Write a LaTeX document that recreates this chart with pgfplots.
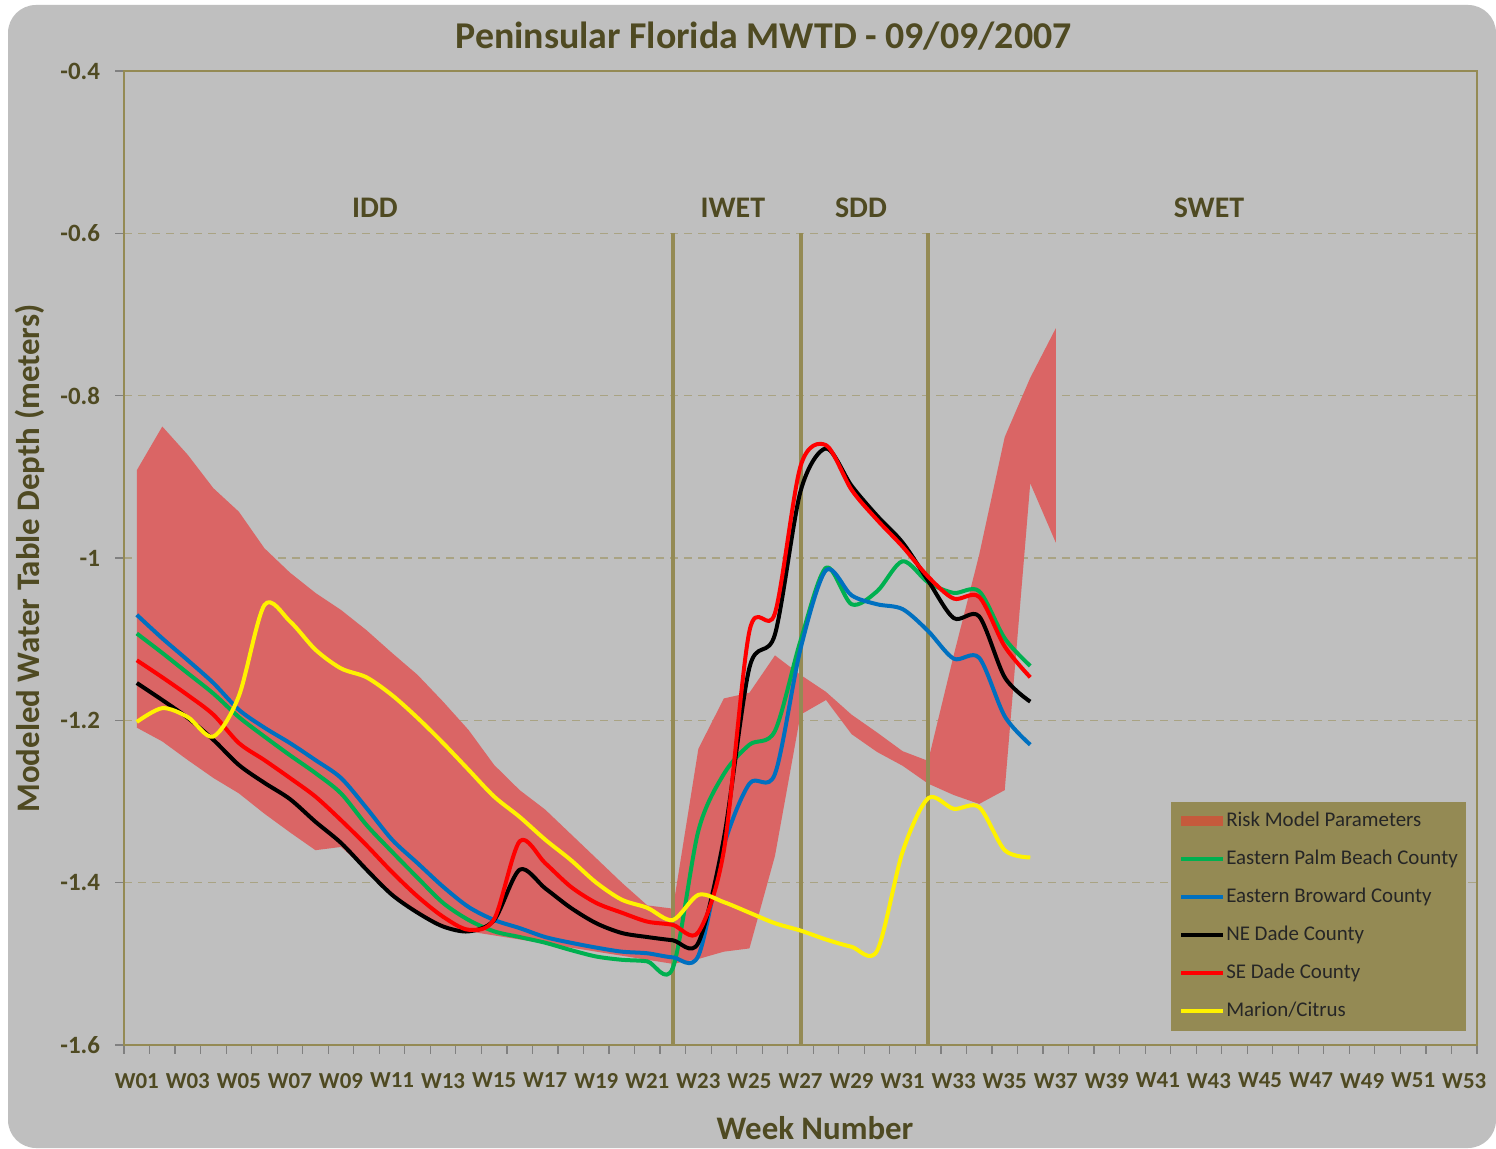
\documentclass[border=0pt]{standalone}
\usepackage{fontspec}
\setmainfont{Carlito}
\usepackage{pgfplots}
\pgfplotsset{compat=1.18}
\definecolor{chartbg}{HTML}{BFBFBF}
\definecolor{olivec}{HTML}{948A54}
\definecolor{gridc}{HTML}{A9A383}
\definecolor{textc}{HTML}{4F4A22}
\definecolor{bandred}{HTML}{DA6565}
\definecolor{legpatch}{HTML}{C55A3C}
\definecolor{xlgreen}{HTML}{00B050}
\definecolor{xlblue}{HTML}{0070C0}
\begin{document}
\begin{tikzpicture}
\path[use as bounding box] (0,0) rectangle (748bp,574.5bp);
\fill[white] (0,0) rectangle (748bp,574.5bp);
\fill[chartbg, rounded corners=14bp] (4bp,0.5bp) rectangle (748bp,572bp);
\begin{axis}[
  at={(62bp,52bp)}, anchor=south west,
  scale only axis, width=676.5bp, height=487bp,
  xmin=0.5, xmax=53.5, ymin=-1.6, ymax=-0.4,
  axis line style={draw=olivec, line width=1.2bp},
  tick pos=left, tick align=outside,
  major tick length=4.5bp, minor tick length=4.5bp,
  xtick={1,3,...,53},
  xticklabels={W01,W03,W05,W07,W09,W11,W13,W15,W17,W19,W21,W23,W25,W27,W29,W31,W33,W35,W37,W39,W41,W43,W45,W47,W49,W51,W53},
  minor xtick={0.5,1.5,...,53.5},
  every major x tick/.append style={draw=none},
  every minor x tick/.append style={draw=gray, line width=0.6bp},
  every major y tick/.append style={draw=gray, line width=0.6bp},
  ytick={-1.6,-1.4,-1.2,-1,-0.8,-0.6,-0.4},
  ymajorgrids,
  y grid style={draw=gridc, line width=0.7bp, dash pattern=on 4bp off 3bp},
  /pgf/number format/assume math mode=true,
  xticklabel style={font=\bfseries\fontsize{11.5}{13}\selectfont, text=textc, yshift=-6bp},
  yticklabel style={font=\bfseries\fontsize{12.5}{14}\selectfont, text=textc, xshift=-4bp, /pgf/number format/fixed, /pgf/number format/precision=1},
  legend style={at={(0.992,0.0144)}, anchor=south east, fill=olivec, draw=none,
    font=\fontsize{10.5}{12}\selectfont, text=black!85,
    row sep=9bp, column sep=0.5bp, inner xsep=4bp, inner ysep=4.75bp,
    nodes={inner sep=0pt, text height=7.5bp, text depth=2.5bp}},
  legend cell align=left,
  legend image code/.code={\draw[#1, line width=2bp] (0bp,0bp) -- (21bp,0bp);},
]
% risk band
\addplot[fill=bandred, draw=none,
  legend image code/.code={\fill[legpatch] (0bp,-2.7bp) rectangle (21bp,2.7bp);}]
coordinates {
(1,-0.892) (2,-0.838) (3,-0.873) (4,-0.914) (5,-0.943) (6,-0.988) (7,-1.018) (8,-1.043)
(9,-1.064) (10,-1.089) (11,-1.117) (12,-1.144) (13,-1.177) (14,-1.212) (15,-1.255) (16,-1.286)
(17,-1.310) (18,-1.340) (19,-1.370) (20,-1.400) (21,-1.428) (22,-1.432) (23,-1.235) (24,-1.173)
(25,-1.166) (26,-1.120) (27,-1.144) (28,-1.165) (29,-1.193) (30,-1.215) (31,-1.238) (32,-1.250)
(33,-1.120) (34,-0.996) (35,-0.851) (36,-0.778) (37,-0.717)
(37,-0.981) (36,-0.908) (35,-1.286) (34,-1.303) (33,-1.292) (32,-1.278) (31,-1.256) (30,-1.239)
(29,-1.217) (28,-1.175) (27,-1.193) (26,-1.367) (25,-1.481) (24,-1.485) (23,-1.494) (22,-1.500)
(21,-1.495) (20,-1.490) (19,-1.485) (18,-1.480) (17,-1.475) (16,-1.470) (15,-1.465) (14,-1.460)
(13,-1.454) (12,-1.437) (11,-1.415) (10,-1.384) (9,-1.356) (8,-1.360) (7,-1.338) (6,-1.315)
(5,-1.290) (4,-1.271) (3,-1.249) (2,-1.226) (1,-1.209)
} -- cycle;
\addlegendentry{Risk Model Parameters}
\draw[olivec, line width=2bp] (axis cs:22,-0.6) -- (axis cs:22,-1.6);
\draw[olivec, line width=2bp] (axis cs:27,-0.6) -- (axis cs:27,-1.6);
\draw[olivec, line width=2bp] (axis cs:32,-0.6) -- (axis cs:32,-1.6);
% Eastern Palm Beach
\addplot[xlgreen, line width=2bp, smooth, line join=round] coordinates {
(1,-1.093) (2,-1.117) (3,-1.142) (4,-1.167) (5,-1.196) (6,-1.220) (7,-1.243) (8,-1.265)
(9,-1.290) (10,-1.329) (11,-1.362) (12,-1.394) (13,-1.425) (14,-1.446) (15,-1.460) (16,-1.467)
(17,-1.474) (18,-1.483) (19,-1.491) (20,-1.495) (21,-1.497) (22,-1.505) (23,-1.336) (24,-1.266)
(25,-1.230) (26,-1.213) (27,-1.102) (28,-1.012) (29,-1.057) (30,-1.041) (31,-1.004) (32,-1.030)
(33,-1.043) (34,-1.041) (35,-1.099) (36,-1.133)};
\addlegendentry{Eastern Palm Beach County}
% Eastern Broward
\addplot[xlblue, line width=2bp, smooth, line join=round] coordinates {
(1,-1.070) (2,-1.099) (3,-1.126) (4,-1.154) (5,-1.187) (6,-1.209) (7,-1.228) (8,-1.249)
(9,-1.271) (10,-1.308) (11,-1.347) (12,-1.376) (13,-1.405) (14,-1.430) (15,-1.446) (16,-1.456)
(17,-1.467) (18,-1.474) (19,-1.480) (20,-1.485) (21,-1.487) (22,-1.492) (23,-1.490) (24,-1.354)
(25,-1.278) (26,-1.266) (27,-1.112) (28,-1.015) (29,-1.046) (30,-1.057) (31,-1.063) (32,-1.090)
(33,-1.124) (34,-1.123) (35,-1.195) (36,-1.230)};
\addlegendentry{Eastern Broward County}
% NE Dade
\addplot[black, line width=2bp, smooth, line join=round] coordinates {
(1,-1.154) (2,-1.175) (3,-1.197) (4,-1.224) (5,-1.255) (6,-1.277) (7,-1.297) (8,-1.325)
(9,-1.351) (10,-1.384) (11,-1.415) (12,-1.437) (13,-1.454) (14,-1.460) (15,-1.446) (16,-1.384)
(17,-1.407) (18,-1.431) (19,-1.450) (20,-1.462) (21,-1.467) (22,-1.471) (23,-1.474) (24,-1.345)
(25,-1.135) (26,-1.094) (27,-0.918) (28,-0.865) (29,-0.911) (30,-0.948) (31,-0.981) (32,-1.028)
(33,-1.074) (34,-1.072) (35,-1.147) (36,-1.177)};
\addlegendentry{NE Dade County}
% SE Dade
\addplot[red, line width=2bp, smooth, line join=round] coordinates {
(1,-1.126) (2,-1.147) (3,-1.169) (4,-1.193) (5,-1.228) (6,-1.249) (7,-1.271) (8,-1.294)
(9,-1.323) (10,-1.354) (11,-1.387) (12,-1.417) (13,-1.442) (14,-1.458) (15,-1.445) (16,-1.349)
(17,-1.376) (18,-1.405) (19,-1.425) (20,-1.437) (21,-1.448) (22,-1.452) (23,-1.461) (24,-1.360)
(25,-1.090) (26,-1.068) (27,-0.887) (28,-0.861) (29,-0.916) (30,-0.953) (31,-0.986) (32,-1.023)
(33,-1.050) (34,-1.048) (35,-1.109) (36,-1.147)};
\addlegendentry{SE Dade County}
% Marion/Citrus
\addplot[yellow, line width=2bp, smooth, line join=round] coordinates {
(1,-1.202) (2,-1.185) (3,-1.196) (4,-1.220) (5,-1.170) (6,-1.058) (7,-1.078) (8,-1.113)
(9,-1.136) (10,-1.147) (11,-1.169) (12,-1.197) (13,-1.228) (14,-1.261) (15,-1.294) (16,-1.319)
(17,-1.347) (18,-1.372) (19,-1.400) (20,-1.421) (21,-1.431) (22,-1.446) (23,-1.415) (24,-1.424)
(25,-1.437) (26,-1.450) (27,-1.459) (28,-1.470) (29,-1.479) (30,-1.484) (31,-1.362) (32,-1.296)
(33,-1.309) (34,-1.307) (35,-1.360) (36,-1.369)};
\addlegendentry{Marion/Citrus}
\node[font=\bfseries\fontsize{15}{18}\selectfont, text=textc] at (axis cs:10.33,-0.568) {IDD};
\node[font=\bfseries\fontsize{15}{18}\selectfont, text=textc] at (axis cs:24.35,-0.568) {IWET};
\node[font=\bfseries\fontsize{15}{18}\selectfont, text=textc] at (axis cs:29.37,-0.568) {SDD};
\node[font=\bfseries\fontsize{15}{18}\selectfont, text=textc] at (axis cs:43.0,-0.568) {SWET};
\end{axis}
\node[font=\bfseries\fontsize{19}{22}\selectfont, text=textc] at (381.75bp,556.5bp) {Peninsular Florida MWTD - 09/09/2007};
\node[rotate=90, font=\bfseries\fontsize{16.5}{19}\selectfont, text=textc] at (15bp,295.25bp) {Modeled Water Table Depth (meters)};
\node[font=\bfseries\fontsize{16.5}{19}\selectfont, text=textc] at (407.5bp,10.5bp) {Week Number};
\end{tikzpicture}
\end{document}
